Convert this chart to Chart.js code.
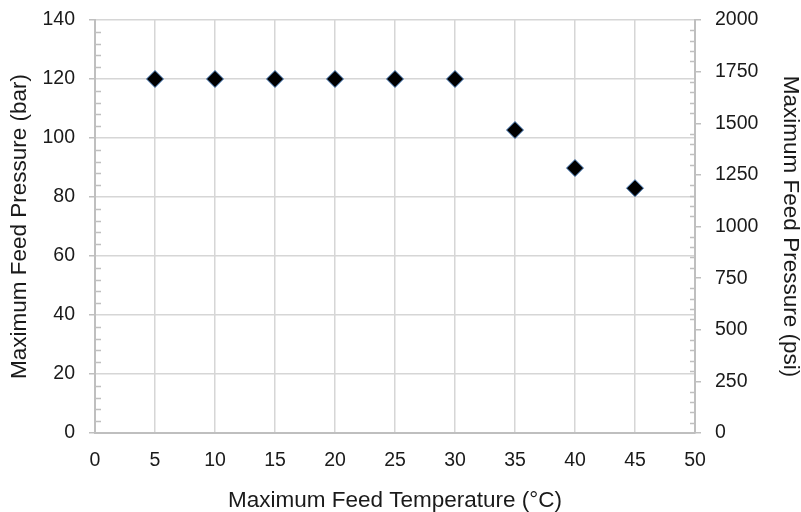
<!DOCTYPE html>
<html>
<head>
<meta charset="utf-8">
<script src="https://cdn.jsdelivr.net/npm/chart.js@4"></script>
<style>
  body { margin: 0; background: #fff; }
  #wrap { width: 801px; height: 512px; }
</style>
</head>
<body>
<div id="wrap"><canvas id="chart" width="801" height="512"></canvas></div>
<script>
// datos
const temperaturas = [5, 10, 15, 20, 25, 30, 35, 40, 45];
const presionBar = [120, 120, 120, 120, 120, 120, 102.7, 89.8, 83];

const xTicks = { min: 0, max: 50, step: 5 };
const barTicks = { min: 0, max: 140, step: 20, minor: 4 };
const psiTicks = { min: 0, max: 2000, step: 250, minor: 50 };

const GRID = "#d6d6d6";
const AXIS = "#bfbfbf";
const TEXTO = "#1a1a1a";
const FUENTE = "'Liberation Sans', Arial, sans-serif";
const TAM_TICK = 19.5;
const TAM_TITULO = 22.5;

// marcas menores hacia adentro del area
const minorTicks = {
  id: "minorTicks",
  afterDraw(chart) {
    const ctx = chart.ctx;
    const y = chart.scales.y;
    const y2 = chart.scales.y2;
    ctx.save();
    ctx.strokeStyle = AXIS;
    ctx.lineWidth = 1.5;
    for (let v = barTicks.min; v <= barTicks.max; v += barTicks.minor) {
      if (v % barTicks.step === 0) continue;
      const py = Math.round(y.getPixelForValue(v)) + 0.5;
      ctx.beginPath();
      ctx.moveTo(y.right, py);
      ctx.lineTo(y.right + 6, py);
      ctx.stroke();
    }
    for (let v = psiTicks.min; v <= psiTicks.max; v += psiTicks.minor) {
      if (v % psiTicks.step === 0) continue;
      const py = Math.round(y2.getPixelForValue(v)) + 0.5;
      ctx.beginPath();
      ctx.moveTo(y2.left, py);
      ctx.lineTo(y2.left - 5, py);
      ctx.stroke();
    }
    ctx.restore();
  }
};

// ancho fijo y sin relleno extra arriba/abajo
function fijarAncho(ancho) {
  return s => {
    s.width = ancho;
    s.paddingTop = 0;
    s.paddingBottom = 0;
  };
}

const puntos = temperaturas.map((t, i) => ({ x: t, y: presionBar[i] }));

new Chart(document.getElementById("chart"), {
  type: "scatter",
  data: {
    datasets: [{
      data: puntos,
      yAxisID: "y",
      pointStyle: "rectRot",
      pointRadius: 8.5,
      pointHoverRadius: 8.5,
      backgroundColor: "#000",
      borderColor: "#4a7ebb",
      borderWidth: 1
    }]
  },
  options: {
    responsive: false,
    animation: false,
    layout: { padding: { top: 20, left: 0, right: 0, bottom: 0 } },
    plugins: { legend: { display: false }, tooltip: { enabled: false } },
    scales: {
      x: {
        type: "linear",
        min: xTicks.min,
        max: xTicks.max,
        afterFit(s) { s.height = 79; },
        ticks: { stepSize: xTicks.step, color: TEXTO, font: { family: FUENTE, size: TAM_TICK }, padding: 16 },
        grid: { color: GRID, lineWidth: 1.5, drawTicks: false },
        border: { color: AXIS, width: 2 },
        title: { display: true, text: "Maximum Feed Temperature (°C)", color: TEXTO, font: { family: FUENTE, size: TAM_TITULO, lineHeight: 1 }, padding: { top: 10, bottom: 0 } }
      },
      y: {
        position: "left",
        min: barTicks.min,
        max: barTicks.max,
        afterFit: fijarAncho(95),
        ticks: { stepSize: barTicks.step, color: TEXTO, font: { family: FUENTE, size: TAM_TICK }, padding: 14 },
        grid: { color: GRID, lineWidth: 1.5, tickLength: 6, tickColor: AXIS },
        border: { color: AXIS, width: 2 },
        title: { display: true, text: "Maximum Feed Pressure (bar)", color: TEXTO, font: { family: FUENTE, size: TAM_TITULO, lineHeight: 1 }, padding: { top: 9, bottom: 0 } }
      },
      y2: {
        position: "right",
        min: psiTicks.min,
        max: psiTicks.max,
        afterFit: fijarAncho(106),
        ticks: { stepSize: psiTicks.step, color: TEXTO, font: { family: FUENTE, size: TAM_TICK }, padding: 14, callback: v => String(v) },
        grid: { drawOnChartArea: false, tickLength: 6, tickColor: AXIS, lineWidth: 1.5 },
        border: { color: AXIS, width: 2 },
        title: { display: true, text: "Maximum Feed Pressure (psi)", color: TEXTO, font: { family: FUENTE, size: TAM_TITULO, lineHeight: 1 }, padding: { top: 0, bottom: 0 } }
      }
    }
  },
  plugins: [minorTicks]
});
</script>
</body>
</html>
